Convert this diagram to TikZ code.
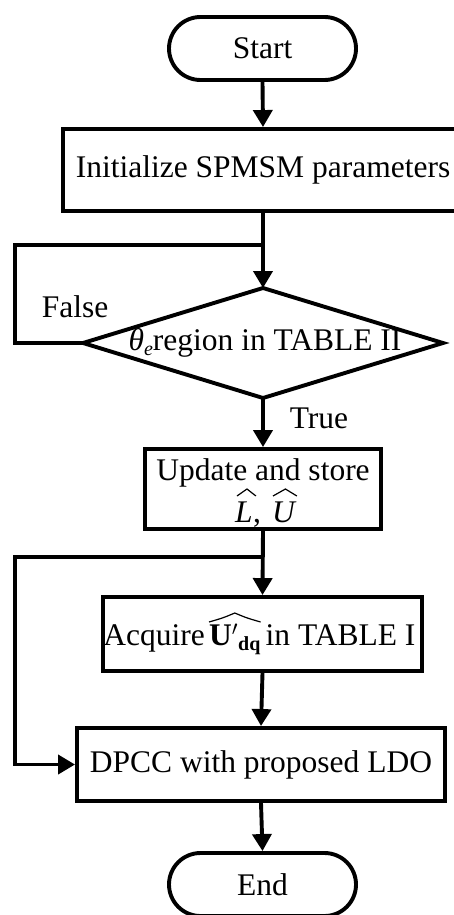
\documentclass[tikz,border=0pt]{standalone}
\usepackage{fontspec}
\setmainfont{Liberation Serif}
\usetikzlibrary{arrows.meta,calc}

\begin{document}
\begin{tikzpicture}[x=1pt,y=-1pt,
  every node/.style={font=\fontsize{31.5}{37}\selectfont},
  txt/.style={inner sep=0pt},
  line/.style={line width=3.9pt,line join=miter},
  hatline/.style={line width=1.2pt,line join=miter},
  arr/.style={line width=3.9pt,-{Triangle[length=17pt,width=19pt]}},
  boxstyle/.style={draw,line width=3.9pt,rectangle,inner sep=0pt,align=center},
  term/.style={draw,line width=3.9pt,rectangle,rounded corners=31.5pt,inner sep=0pt,
    minimum width=187pt,minimum height=63pt}]
\useasboundingbox (0,0) rectangle (454,915);

% terminals and process boxes
\node[term] (start) at (262.5,48.5) {Start};
\node[boxstyle,minimum width=400pt,minimum height=82pt] (init) at (263,170)
  {Initialize SPMSM parameters};

% decision diamond
\coordinate (decn) at (263,288);
\coordinate (dece) at (443,343);
\coordinate (decs) at (263,398);
\coordinate (decw) at (83,343);
\draw[line] (decn) -- (dece) -- (decs) -- (decw) -- cycle;
\node (dec) at (265,343) {\textit{θ}\raisebox{-0.35ex}{\fontsize{20}{20}\selectfont\textit{e}}region in TABLE II};

% update box with the estimated quantities
\node[boxstyle,minimum width=236pt,minimum height=80pt] (upd) at (263,489) {};
\node[txt] (updt) at (263,473) {Update and store};
\node[txt,anchor=base west] (hl) at (235,522) {\textit{L}};
\node[txt,anchor=base west] (hc) at (hl.base east) {,};
\node[txt,anchor=base west] (hu) at (272,522) {\textit{U}};
\draw[hatline] ($(hl.base west)+(2,-26)$) -- ($(hl.base)+(3,-33)$) -- ($(hl.base east)+(3,-26)$);
\draw[hatline] ($(hu.base west)+(1,-26)$) -- ($(hu.base)+(1,-33)$) -- ($(hu.base east)+(0,-26)$);

% acquire box
\node[boxstyle,minimum width=319pt,minimum height=74pt] (acq) at (262.5,634) {};
\node[txt,anchor=base east] (acqa) at (205,645) {Acquire};
\node[txt,anchor=base west] (acqu) at (209,645)
  {\textbf{U}$'$\raisebox{-0.4ex}{\fontsize{20}{20}\selectfont\textbf{dq}}};
\node[txt,anchor=base west] (acqb) at (265.5,645) {in TABLE I};
\draw[hatline] ($(acqu.base west)+(0,-23)$) .. controls ($(acqu.base)+(-12,-27)$) ..
  ($(acqu.base)+(0,-32)$) .. controls ($(acqu.base)+(12,-27)$) .. ($(acqu.base east)+(0,-23)$);

\node[boxstyle,minimum width=368pt,minimum height=73pt] (dpcc) at (261,764.5)
  {DPCC with proposed LDO};
\node[term] (end) at (262.5,884.5) {End};

% junctions for the two feedback lines
\coordinate (j1) at (263,245);
\coordinate (j1l) at (15,245);
\coordinate (j2) at (263,557);
\coordinate (j2l) at (15,557);
\coordinate (j2b) at (15,764.5);

% connectors
\draw[arr] (start.south) -- (init.north);
\draw[arr] (init.south) -- (decn);
\draw[line] (decw) -- (15,343) -- (j1l) -- (j1);
\draw[arr] (decs) -- (upd.north);
\draw[arr] (upd.south) -- (acq.north);
\draw[line] (j2) -- (j2l) -- (j2b) -- ++(20,0);
\draw[arr] (j2b) -- (dpcc.west);
\draw[arr] (acq.south) -- (dpcc.north);
\draw[arr] (dpcc.south) -- (end.north);

% branch labels
\node (false) at (75,307) {False};
\node (true) at (319,418) {True};
\end{tikzpicture}
\end{document}
